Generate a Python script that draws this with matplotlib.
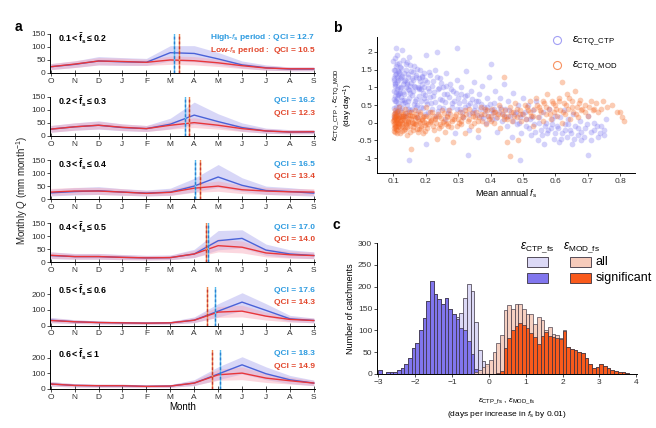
import numpy as np
import matplotlib.pyplot as plt
import matplotlib
from matplotlib.patches import Rectangle

matplotlib.rc('font', family='Liberation Sans', size=6)
plt.rcParams['mathtext.fontset'] = 'custom'
plt.rcParams['mathtext.rm'] = 'Liberation Sans'
plt.rcParams['mathtext.it'] = 'Liberation Sans:italic'
plt.rcParams['mathtext.bf'] = 'Liberation Sans:bold'

# ---------------- panel a data ----------------
months = ['O', 'N', 'D', 'J', 'F', 'M', 'A', 'M', 'J', 'J', 'A', 'S']
bin_labels = [r'$\mathbf{0.1 < \bar{f}_s \leq 0.2}$', r'$\mathbf{0.2 < \bar{f}_s \leq 0.3}$',
              r'$\mathbf{0.3 < \bar{f}_s \leq 0.4}$', r'$\mathbf{0.4 < \bar{f}_s \leq 0.5}$',
              r'$\mathbf{0.5 < \bar{f}_s \leq 0.6}$', r'$\mathbf{0.6 < \bar{f}_s \leq 1}$']
qci_high = [12.7, 16.2, 16.5, 17.0, 17.6, 18.3]
qci_low = [10.5, 12.3, 13.4, 14.0, 14.3, 14.9]
cent_high = [5.14, 5.60, 6.05, 6.57, 6.87, 7.07]
cent_low = [5.38, 5.80, 6.23, 6.49, 6.53, 6.73]
ymax_a = [150, 150, 150, 150, 250, 250]

high_q = [[23, 32, 45, 42, 40, 77, 74, 53, 30, 19, 14, 14],
          [26, 35, 41, 32, 28, 45, 80, 55, 32, 19, 15, 15],
          [24, 29, 32, 27, 23, 27, 50, 85, 53, 33, 29, 23],
          [26, 22, 22, 19, 17, 18, 32, 83, 92, 47, 32, 26],
          [34, 24, 19, 17, 15, 17, 34, 92, 150, 97, 43, 32],
          [30, 21, 19, 19, 15, 17, 36, 94, 153, 96, 57, 36]]
high_lo = [[12, 20, 30, 28, 28, 45, 42, 32, 18, 10, 7, 7],
           [14, 22, 26, 20, 17, 27, 45, 33, 18, 10, 8, 8],
           [12, 16, 18, 15, 12, 15, 28, 45, 30, 18, 15, 11],
           [14, 12, 12, 10, 9, 10, 18, 48, 55, 27, 18, 14],
           [18, 13, 10, 9, 8, 9, 18, 55, 95, 58, 25, 17],
           [16, 11, 10, 10, 8, 9, 20, 58, 95, 58, 33, 19]]
high_hi = [[35, 45, 62, 58, 55, 104, 104, 78, 45, 30, 22, 22],
           [40, 50, 58, 46, 40, 68, 130, 85, 50, 30, 24, 24],
           [38, 44, 48, 40, 35, 42, 80, 133, 82, 50, 44, 36],
           [40, 34, 34, 30, 27, 28, 50, 122, 125, 70, 48, 40],
           [52, 37, 29, 26, 23, 26, 55, 140, 210, 140, 65, 48],
           [46, 32, 29, 29, 23, 26, 58, 140, 205, 140, 85, 55]]
low_q = [[23, 33, 45, 43, 40, 49, 46, 38, 27, 18, 15, 15],
         [26, 35, 41, 33, 28, 41, 51, 41, 28, 19, 15, 16],
         [27, 31, 31, 27, 22, 26, 42, 50, 36, 31, 28, 27],
         [27, 22, 22, 19, 17, 18, 32, 64, 58, 36, 29, 26],
         [32, 24, 19, 17, 15, 17, 34, 86, 92, 60, 39, 32],
         [30, 21, 19, 19, 15, 17, 36, 89, 100, 68, 51, 36]]
low_lo = [[12, 20, 30, 29, 28, 32, 30, 24, 16, 10, 8, 8],
          [14, 22, 27, 21, 17, 26, 32, 26, 17, 11, 8, 9],
          [15, 18, 18, 15, 12, 14, 26, 30, 21, 18, 16, 15],
          [15, 12, 12, 10, 9, 10, 19, 40, 36, 21, 16, 14],
          [18, 13, 10, 9, 8, 9, 20, 52, 55, 35, 22, 18],
          [17, 11, 10, 10, 8, 9, 21, 54, 58, 40, 30, 20]]
low_hi = [[35, 46, 58, 56, 52, 64, 62, 52, 38, 27, 22, 22],
          [40, 50, 56, 46, 40, 56, 70, 56, 40, 28, 23, 24],
          [41, 45, 45, 40, 33, 38, 58, 70, 52, 45, 41, 40],
          [40, 33, 33, 29, 26, 27, 46, 90, 82, 52, 43, 39],
          [48, 36, 29, 26, 23, 26, 50, 122, 130, 86, 57, 47],
          [45, 32, 29, 29, 23, 26, 53, 125, 140, 96, 74, 53]]

# ---------------- panel b data ----------------
ctp_x = [0.100, 0.101, 0.102, 0.103, 0.104, 0.105, 0.106, 0.107, 0.108, 0.109, 0.110, 0.111,
         0.112, 0.113, 0.114, 0.115, 0.117, 0.118, 0.120, 0.122, 0.123, 0.125, 0.127, 0.128,
         0.130, 0.132, 0.134, 0.135, 0.137, 0.140, 0.142, 0.144, 0.146, 0.148, 0.150, 0.152,
         0.155, 0.157, 0.160, 0.162, 0.165, 0.168, 0.170, 0.172, 0.175, 0.178, 0.180, 0.183,
         0.186, 0.190, 0.193, 0.196, 0.200, 0.200, 0.205, 0.208, 0.210, 0.213, 0.216, 0.220,
         0.224, 0.228, 0.232, 0.235, 0.238, 0.242, 0.245, 0.250, 0.254, 0.258, 0.262, 0.266,
         0.270, 0.275, 0.280, 0.285, 0.290, 0.295, 0.298, 0.300, 0.305, 0.310, 0.315, 0.320,
         0.325, 0.330, 0.335, 0.340, 0.345, 0.350, 0.355, 0.360, 0.365, 0.370, 0.375, 0.380,
         0.385, 0.390, 0.395, 0.400, 0.402, 0.405, 0.410, 0.415, 0.420, 0.425, 0.430, 0.435,
         0.440, 0.445, 0.450, 0.455, 0.460, 0.465, 0.470, 0.475, 0.480, 0.485, 0.490, 0.495,
         0.500, 0.505, 0.510, 0.515, 0.520, 0.525, 0.530, 0.535, 0.540, 0.545, 0.550, 0.555,
         0.560, 0.565, 0.570, 0.575, 0.580, 0.585, 0.590, 0.595, 0.600, 0.605, 0.610, 0.615,
         0.620, 0.625, 0.630, 0.635, 0.640, 0.645, 0.650, 0.655, 0.660, 0.670, 0.675, 0.680,
         0.690, 0.700, 0.700, 0.710, 0.720, 0.730, 0.740, 0.750, 0.755, 0.150, 0.330, 0.490,
         0.200, 0.104, 0.116, 0.124, 0.133, 0.141, 0.153, 0.163, 0.174, 0.185, 0.195, 0.108,
         0.119, 0.129, 0.139, 0.147, 0.158, 0.169, 0.179, 0.188, 0.198, 0.103, 0.112, 0.121,
         0.101, 0.102, 0.103, 0.104, 0.105, 0.106, 0.107, 0.108, 0.109, 0.110, 0.111, 0.112,
         0.113, 0.114, 0.115, 0.116, 0.117, 0.118, 0.119, 0.121, 0.122, 0.124, 0.126, 0.128,
         0.129, 0.131, 0.133, 0.136, 0.138, 0.139, 0.141, 0.143, 0.145, 0.147, 0.149, 0.151,
         0.153, 0.156, 0.159, 0.161, 0.164, 0.166, 0.169, 0.171, 0.174, 0.177, 0.179, 0.182,
         0.185, 0.188, 0.191, 0.194, 0.197, 0.199, 0.203, 0.207, 0.211, 0.214, 0.218, 0.222,
         0.226, 0.230, 0.234, 0.237, 0.241, 0.244, 0.248, 0.252, 0.256, 0.260, 0.264, 0.268,
         0.272, 0.277, 0.282, 0.287, 0.292, 0.297, 0.302, 0.308, 0.312, 0.318, 0.322, 0.328,
         0.332, 0.338, 0.343, 0.348, 0.352, 0.358, 0.362, 0.368, 0.372, 0.378, 0.382, 0.388,
         0.392, 0.398, 0.408, 0.412, 0.418, 0.428, 0.438, 0.448, 0.458, 0.468, 0.478, 0.488,
         0.498, 0.508, 0.518, 0.528, 0.538, 0.548, 0.558, 0.568, 0.578, 0.588, 0.598, 0.608,
         0.618, 0.628, 0.638, 0.648, 0.658, 0.668, 0.678, 0.688, 0.698, 0.708, 0.718, 0.728,
         0.738, 0.748]
ctp_y = [1.75, 1.50, 1.20, 0.90, 0.60, 1.35, 1.05, 0.75, 1.60, 0.45, 2.10, 1.30,
         0.95, 1.15, 0.55, 1.45, 0.85, 1.70, 1.25, 0.35, 1.00, 1.55, 0.65, 2.05,
         1.10, 1.40, 0.80, 0.20, 1.20, 1.65, 0.50, 0.95, 1.30, 1.85, 0.70, 1.05,
         1.45, 0.40, 1.20, 0.90, 1.60, 0.60, 1.35, 0.15, 1.00, 1.25, 0.75, 1.50,
         0.45, 1.10, 0.85, 1.40, 0.60, 1.90, 1.15, 0.30, 0.90, 1.35, 0.55, 1.05,
         0.75, 1.50, 0.20, 2.00, 0.95, 0.45, 1.25, 0.65, 1.00, 0.10, 1.40, 0.80,
         0.35, 1.10, 0.55, 0.90, -0.30, 1.20, 2.10, 0.70, 0.40, 1.00, 0.15, 0.75,
         1.45, 0.50, -0.20, 0.90, 0.30, 1.15, 0.60, -0.40, 0.80, 0.20, 1.05, 0.45,
         0.00, 0.70, 1.30, 0.35, 1.65, 0.10, 0.55, 0.90, -0.25, 0.30, 0.70, 0.05,
         1.10, 0.40, -0.10, 0.60, 0.20, -0.40, 0.85, 0.25, -0.05, 0.50, 0.15, -0.30,
         0.70, 0.30, -0.10, 0.50, 0.10, -0.35, 0.35, -0.05, 0.60, -0.50, 0.15, -0.20,
         0.30, -0.60, 0.00, -0.30, 0.40, -0.15, 0.10, -0.45, 0.20, -0.10, -0.55, 0.15,
         -0.30, 0.35, -0.05, -0.40, 0.10, -0.20, -0.60, 0.25, -0.10, -0.35, 0.05, -0.50,
         -0.15, 0.20, -0.90, -0.25, 0.00, -0.40, -0.10, -0.35, 0.10, -1.05, -0.90, -1.05,
         -0.60, 1.10, 0.80, 1.30, 0.65, 1.15, 0.85, 1.05, 0.50, 0.95, 0.70, 0.30,
         1.40, 0.55, 1.00, 0.40, 1.25, 0.45, 0.95, 1.30, 0.25, 1.25, 0.70, 0.85,
         0.15, 0.42, 0.68, 1.48, 1.82, 0.28, 1.12, 0.88, 1.38, 0.62, 1.66, 0.32,
         1.92, 1.02, 0.78, 1.22, 0.48, 1.42, 0.18, 0.98, 1.58, 0.72, 1.32, 0.42,
         1.78, 0.88, 1.18, 0.58, 1.48, 0.28, 1.08, 1.72, 0.62, 1.38, 0.92, 1.62,
         0.36, 1.12, 0.78, 1.42, 0.52, 1.02, 1.28, 0.68, 1.52, 0.32, 0.98, 1.18,
         0.62, 1.32, 0.42, 1.02, 0.78, 1.22, 0.52, 0.98, 1.42, 0.72, 0.38, 1.18,
         0.88, 0.58, 1.28, 0.32, 0.98, 0.68, 1.12, 0.42, 0.82, 0.58, 1.05, 0.28,
         0.72, 0.95, 0.45, 0.62, 0.85, 0.38, 0.55, 0.82, 0.30, 0.62, 0.45, 0.78,
         0.25, 0.55, 0.68, 0.35, 0.48, 0.22, 0.62, 0.38, 0.52, 0.12, 0.32, 0.45,
         0.18, 0.52, 0.28, 0.40, 0.12, 0.45, 0.25, 0.15, 0.35, 0.05, 0.30, 0.00,
         0.25, 0.10, -0.15, 0.15, -0.25, 0.00, -0.35, -0.10, -0.20, -0.05, -0.30, -0.15,
         -0.45, -0.20, -0.05, -0.30, -0.45, -0.15, -0.25, -0.40, -0.05, -0.50, -0.20, -0.10,
         -0.30, -0.20]
mod_x = [0.100, 0.101, 0.102, 0.103, 0.104, 0.105, 0.106, 0.107, 0.108, 0.109, 0.110, 0.112,
         0.113, 0.115, 0.117, 0.118, 0.120, 0.122, 0.124, 0.126, 0.128, 0.130, 0.132, 0.134,
         0.136, 0.138, 0.140, 0.143, 0.146, 0.149, 0.152, 0.155, 0.155, 0.158, 0.160, 0.163,
         0.166, 0.170, 0.173, 0.176, 0.180, 0.183, 0.186, 0.190, 0.193, 0.196, 0.200, 0.200,
         0.205, 0.210, 0.215, 0.220, 0.225, 0.230, 0.235, 0.240, 0.245, 0.250, 0.255, 0.260,
         0.265, 0.270, 0.275, 0.280, 0.285, 0.290, 0.295, 0.300, 0.305, 0.310, 0.315, 0.320,
         0.325, 0.330, 0.335, 0.340, 0.345, 0.350, 0.355, 0.360, 0.365, 0.370, 0.375, 0.380,
         0.385, 0.390, 0.395, 0.400, 0.405, 0.410, 0.415, 0.420, 0.425, 0.430, 0.435, 0.440,
         0.440, 0.445, 0.450, 0.455, 0.460, 0.460, 0.465, 0.470, 0.475, 0.480, 0.485, 0.490,
         0.495, 0.500, 0.505, 0.510, 0.515, 0.520, 0.525, 0.530, 0.535, 0.540, 0.545, 0.550,
         0.555, 0.560, 0.565, 0.570, 0.575, 0.580, 0.585, 0.590, 0.595, 0.600, 0.605, 0.610,
         0.615, 0.620, 0.620, 0.625, 0.630, 0.635, 0.640, 0.645, 0.650, 0.655, 0.660, 0.665,
         0.670, 0.675, 0.680, 0.690, 0.700, 0.710, 0.720, 0.730, 0.745, 0.760, 0.775, 0.790,
         0.805, 0.810, 0.800, 0.111, 0.114, 0.119, 0.127, 0.131, 0.137, 0.144, 0.151, 0.161,
         0.168, 0.178, 0.188, 0.198, 0.212, 0.228, 0.248, 0.268, 0.288, 0.308, 0.102, 0.116,
         0.101, 0.102, 0.103, 0.104, 0.105, 0.106, 0.107, 0.108, 0.109, 0.110, 0.111, 0.112,
         0.114, 0.115, 0.116, 0.118, 0.119, 0.121, 0.123, 0.125, 0.127, 0.129, 0.131, 0.133,
         0.135, 0.137, 0.139, 0.141, 0.144, 0.147, 0.150, 0.153, 0.156, 0.159, 0.162, 0.165,
         0.168, 0.171, 0.174, 0.177, 0.181, 0.184, 0.187, 0.191, 0.194, 0.197, 0.202, 0.207,
         0.212, 0.217, 0.222, 0.227, 0.232, 0.237, 0.242, 0.247, 0.252, 0.257, 0.262, 0.267,
         0.272, 0.277, 0.282, 0.292, 0.302, 0.312, 0.322, 0.332, 0.342, 0.352, 0.362, 0.372,
         0.382, 0.392, 0.402, 0.412, 0.422, 0.432, 0.442, 0.452, 0.462, 0.472, 0.482, 0.492,
         0.512, 0.522, 0.532, 0.542, 0.552, 0.562, 0.572, 0.582, 0.592, 0.602, 0.612, 0.622,
         0.632, 0.642, 0.652, 0.662, 0.672, 0.682, 0.692, 0.702, 0.715, 0.725, 0.740]
mod_y = [0.05, -0.15, 0.25, -0.05, 0.15, -0.25, 0.35, 0.00, -0.10, 0.20, 0.10, -0.20,
         0.30, -0.05, 0.15, 0.45, -0.30, 0.05, 0.20, -0.10, 0.00, 0.25, -0.20, 0.10,
         0.40, -0.05, 0.15, -0.35, 0.05, 0.30, -0.10, 0.10, -0.75, 0.20, -0.20, 0.00,
         0.35, -0.05, 0.15, -0.25, 0.05, 0.25, -0.10, 0.10, -0.30, 0.20, 0.00, 0.45,
         -0.15, 0.15, 0.05, 0.30, -0.20, 0.10, -0.45, 0.20, -0.05, 0.35, 0.05, -0.25,
         0.15, -0.10, 0.25, 0.05, -0.55, 0.20, -0.10, 0.10, 0.30, -0.05, 0.15, -0.30,
         0.25, 0.05, 0.40, -0.10, 0.20, 0.00, 0.30, -0.20, 0.15, 0.45, 0.05, 0.25,
         -0.05, 0.35, 0.10, 0.20, 0.40, 0.00, 0.30, 0.15, 0.50, -0.15, 0.25, 1.30,
         0.10, 0.35, -0.55, 0.20, 0.45, -0.95, 0.05, 0.30, 0.55, 0.15, -0.50, 0.35,
         0.05, 0.25, 0.50, 0.10, 0.35, 0.60, 0.20, -0.10, 0.40, 0.70, 0.15, 0.45,
         0.30, 0.05, 0.55, 0.25, 0.80, 0.40, 0.10, 0.60, 0.30, 0.50, 0.20, 0.70,
         0.35, 1.15, 0.00, 0.55, 0.25, 0.80, 0.40, 0.10, 0.60, 0.30, 0.90, 0.45,
         0.15, 0.65, 0.35, 0.50, 0.20, 0.60, 0.40, 0.30, 0.60, 0.45, 0.50, 0.30,
         0.15, 0.05, 0.30, 0.00, 0.12, -0.08, 0.08, 0.18, -0.12, 0.02, 0.22, -0.02,
         0.12, -0.18, 0.08, -0.06, 0.02, 0.12, -0.08, 0.00, 0.10, 0.05, 0.10, -0.02,
         0.08, -0.22, 0.18, -0.08, 0.28, -0.12, 0.12, 0.02, -0.18, 0.22, -0.28, 0.08,
         0.32, -0.12, 0.12, -0.02, 0.22, -0.15, 0.08, 0.30, -0.22, 0.12, -0.05, 0.18,
         -0.18, 0.28, 0.02, -0.12, 0.22, -0.02, 0.12, -0.25, 0.30, 0.02, -0.12, 0.18,
         -0.05, 0.25, -0.18, 0.10, 0.00, 0.30, -0.15, 0.15, 0.02, -0.22, 0.20, -0.05,
         0.30, 0.08, -0.10, 0.20, 0.00, 0.25, -0.15, 0.12, 0.02, 0.28, -0.05, 0.18,
         0.35, -0.12, 0.10, 0.25, 0.00, 0.20, 0.35, 0.10, 0.28, 0.15, 0.05, 0.25,
         0.40, 0.20, 0.05, 0.30, 0.25, 0.40, 0.20, 0.10, 0.30, 0.20, 0.40, 0.25,
         0.45, 0.30, 0.20, 0.50, 0.35, 0.60, 0.45, 0.25, 0.55, 0.40, 0.60, 0.30,
         0.50, 0.70, 0.45, 0.25, 0.55, 0.40, 0.30, 0.45, 0.35, 0.55, 0.40]

# ---------------- panel c data (bins of 0.1 from -3 to 4) ----------------
bin_edges = np.round(np.arange(-3.0, 4.01, 0.1), 2)
ctp_all = [9, 0, 4, 4, 5, 10, 13, 22, 36, 60, 71, 100, 129, 167, 212, 184, 171, 161, 173, 148,
           138, 130, 140, 175, 205, 190, 120, 55, 30, 18,
           0, 0, 0, 0, 0, 0, 0, 0, 0, 0, 0, 0, 0, 0, 0, 0, 0, 0, 0, 0,
           0, 0, 0, 0, 0, 0, 0, 0, 0, 0, 0, 0, 0, 0, 0, 0, 0, 0, 0, 0]
ctp_sig = [9, 0, 4, 4, 5, 10, 13, 22, 36, 60, 71, 100, 129, 167, 212, 184, 171, 161, 173, 148,
           138, 125, 105, 100, 75, 45, 12, 5, 3, 2,
           0, 0, 0, 0, 0, 0, 0, 0, 0, 0, 0, 0, 0, 0, 0, 0, 0, 0, 0, 0,
           0, 0, 0, 0, 0, 0, 0, 0, 0, 0, 0, 0, 0, 0, 0, 0, 0, 0, 0, 0]
mod_all = [0, 0, 0, 0, 0, 0, 0, 0, 0, 0, 0, 0, 0, 0, 0, 0, 0, 0, 0, 0,
           0, 0, 0, 0, 0, 0, 4, 10, 17, 24,
           32, 51, 70, 89, 146, 157, 150, 161, 161, 150, 138, 138, 115, 130, 123, 100, 108, 92, 90, 82,
           100, 62, 58, 55, 51, 47, 36, 24, 13, 15, 22, 18, 13, 9, 8, 5, 4, 2, 0, 0]
mod_sig = [0, 0, 0, 0, 0, 0, 0, 0, 0, 0, 0, 0, 0, 0, 0, 0, 0, 0, 0, 0,
           0, 0, 0, 0, 0, 0, 0, 0, 0, 0,
           0, 0, 3, 8, 60, 82, 100, 110, 116, 112, 106, 93, 85, 68, 86, 97, 88, 85, 82, 80,
           98, 62, 58, 55, 51, 47, 36, 24, 13, 15, 22, 18, 13, 9, 8, 5, 4, 2, 0, 0]

W, H = 656, 428
fig = plt.figure(figsize=(W / 100, H / 100), dpi=100)


def rect(x0, y0, x1, y1):
    # pixel box (top-left origin) -> figure fraction
    return [x0 / W, 1 - y1 / H, (x1 - x0) / W, (y1 - y0) / H]


blue_line = '#4a62d8'
red_line = '#e8363a'
blue_txt = '#2d9be0'
red_txt = '#e2472c'

# ---------------- panel a ----------------
xm = np.arange(12)
for k in range(6):
    top = 33.7 + 63.2 * k
    ax = fig.add_axes(rect(50, top, 315, top + 39))
    ax.fill_between(xm, high_lo[k], high_hi[k], color='#b9b6f2', alpha=0.55, lw=0)
    ax.fill_between(xm, low_lo[k], low_hi[k], color='#f7a8b8', alpha=0.45, lw=0)
    ax.plot(xm, high_q[k], color=blue_line, lw=1.0)
    ax.plot(xm, low_q[k], color=red_line, lw=1.0)
    ax.axvline(cent_high[k], color='#5cc0f0', lw=1.0)
    ax.axvline(cent_high[k], color='#2a7fd0', lw=1.0, ls=(0, (2, 1.5)))
    ax.axvline(cent_low[k], color='#f08a50', lw=1.0)
    ax.axvline(cent_low[k], color='#c83a30', lw=1.0, ls=(0, (2, 1.5)))
    ax.set_xlim(-0.03, 11.05)
    ax.set_ylim(0, ymax_a[k])
    if ymax_a[k] == 150:
        ax.set_yticks([0, 50, 100, 150])
    else:
        ax.set_yticks([0, 100, 200])
    ax.set_xticks(xm)
    ax.set_xticklabels(months)
    ax.spines['top'].set_visible(False)
    ax.spines['right'].set_visible(False)
    ax.tick_params(axis='x', direction='inout', length=4, width=0.6, labelsize=6, pad=1.5, colors='#333333')
    ax.tick_params(axis='y', direction='out', length=2, width=0.6, labelsize=6, pad=1, colors='#333333')
    for s in ax.spines.values():
        s.set_linewidth(0.7)
    ax.text(0.03, 0.88, bin_labels[k], transform=ax.transAxes, fontsize=6.4, va='center', ha='left')
    if k == 0:
        ax.text(1.0, 0.9, r'High-$\mathbf{\mathit{f}_s}$ period : QCI = %.1f' % qci_high[k], color=blue_txt,
                fontsize=6, fontweight='bold', transform=ax.transAxes, ha='right', va='center')
        ax.text(1.0, 0.58, r'Low-$\mathbf{\mathit{f}_s}$ period :  QCI = %.1f' % qci_low[k], color=red_txt,
                fontsize=6, fontweight='bold', transform=ax.transAxes, ha='right', va='center')
    else:
        ax.text(1.0, 0.9, 'QCI = %.1f' % qci_high[k], color=blue_txt, fontsize=6, fontweight='bold',
                transform=ax.transAxes, ha='right', va='center')
        ax.text(1.0, 0.58, 'QCI = %.1f' % qci_low[k], color=red_txt, fontsize=6, fontweight='bold',
                transform=ax.transAxes, ha='right', va='center')
    if k == 5:
        ax.set_xlabel('Month', fontsize=7, labelpad=1)

fig.text(22 / W, 1 - 190 / H, r'Monthly $\mathit{Q}$ (mm month$^{-1}$)', rotation=90, fontsize=7,
         ha='center', va='center', color='#222222')
fig.text(15 / W, 1 - 27 / H, 'a', fontsize=10, fontweight='bold', va='center')

# ---------------- panel b ----------------
axb = fig.add_axes(rect(377, 37, 635, 173))
axb.scatter(ctp_x, ctp_y, s=17, color='#7d78f0', alpha=0.33, lw=0, label=r'$\varepsilon_\mathrm{CTQ\_CTP}$')
axb.scatter(mod_x, mod_y, s=17, color='#f5641e', alpha=0.33, lw=0, label=r'$\varepsilon_\mathrm{CTQ\_MOD}$')
axb.set_xlim(0.05, 0.845)
axb.set_ylim(-1.42, 2.42)
axb.set_xticks([0.1, 0.2, 0.3, 0.4, 0.5, 0.6, 0.7, 0.8])
axb.set_yticks([-1, -0.5, 0, 0.5, 1, 1.5, 2])
axb.set_yticklabels(['-1', '-0.5', '0', '0.5', '1', '1.5', '2'])
axb.spines['top'].set_visible(False)
axb.spines['right'].set_visible(False)
for s in axb.spines.values():
    s.set_linewidth(0.7)
axb.tick_params(labelsize=6, length=2, width=0.6, pad=1.5, colors='#333333')
axb.set_xlabel(r'Mean annual $\mathit{f}_\mathrm{s}$', fontsize=6.5, labelpad=2)
axb.set_ylabel(r'$\varepsilon_\mathrm{CTQ\_CTP}$ , $\varepsilon_\mathrm{CTQ\_MOD}$' + '\n' + r'(day day$^{-1}$)',
               fontsize=6, labelpad=2, linespacing=1.1)
leg = axb.legend(loc='upper right', bbox_to_anchor=(0.97, 1.09), frameon=False, fontsize=8,
                 labelspacing=0.9, handletextpad=0.3, markerscale=1.4)
for h, c in zip(leg.legend_handles, ['#7d78f0', '#f5641e']):
    h.set_alpha(0.7)
    h.set_facecolor('#ffffff00')
    h.set_edgecolor(c)
    h.set_linewidth(0.8)
fig.text(333 / W, 1 - 28 / H, 'b', fontsize=10, fontweight='bold', va='center')

# ---------------- panel c ----------------
axc = fig.add_axes(rect(377, 243, 637, 374))
lefts = bin_edges[:-1]
ec = '#3a3240'
axc.bar(lefts, ctp_all, width=0.1, align='edge', color='#dcd9f6', edgecolor=ec, lw=0.5)
axc.bar(lefts, ctp_sig, width=0.1, align='edge', color='#8176ee', edgecolor=ec, lw=0.5)
axc.bar(lefts, mod_all, width=0.1, align='edge', color='#f6cbbb', edgecolor=ec, lw=0.5, alpha=0.9)
axc.bar(lefts, mod_sig, width=0.1, align='edge', color='#f95a1c', edgecolor=ec, lw=0.5)
axc.set_xlim(-3.04, 4.02)
axc.set_ylim(0, 300)
axc.set_xticks(range(-3, 5))
axc.set_yticks(range(0, 301, 50))
axc.spines['top'].set_visible(False)
axc.spines['right'].set_visible(False)
for s in axc.spines.values():
    s.set_linewidth(0.7)
axc.tick_params(labelsize=6, length=2, width=0.6, pad=1.5, colors='#333333')
axc.set_ylabel('Number of catchments', fontsize=6.5, labelpad=2)
axc.set_xlabel(r'$\varepsilon_\mathrm{CTP\_fs}$ , $\varepsilon_\mathrm{MOD\_fs}$' + '\n' +
               r'(days per increase in $\mathit{f}_\mathrm{s}$ by 0.01)', fontsize=6, labelpad=8, linespacing=1.4)

# custom legend
fig.text(537 / W, 1 - 248 / H, r'$\varepsilon_\mathrm{CTP\_fs}$', fontsize=8.5, ha='center', va='center')
fig.text(582 / W, 1 - 248 / H, r'$\varepsilon_\mathrm{MOD\_fs}$', fontsize=8.5, ha='center', va='center')
for (x0, y0, c) in [(527, 257, '#dcd9f6'), (527, 273, '#8176ee'), (570, 257, '#f6cbbb'), (570, 273, '#f95a1c')]:
    r = rect(x0, y0, x0 + 21, y0 + 10)
    fig.add_artist(Rectangle((r[0], r[1]), r[2], r[3], transform=fig.transFigure,
                             facecolor=c, edgecolor=ec, lw=0.6))
fig.text(596 / W, 1 - 262 / H, 'all', fontsize=9, va='center')
fig.text(596 / W, 1 - 278 / H, 'significant', fontsize=9, va='center')
fig.text(333 / W, 1 - 225 / H, 'c', fontsize=10, fontweight='bold', va='center')

fig.savefig('out.png', dpi=100)
